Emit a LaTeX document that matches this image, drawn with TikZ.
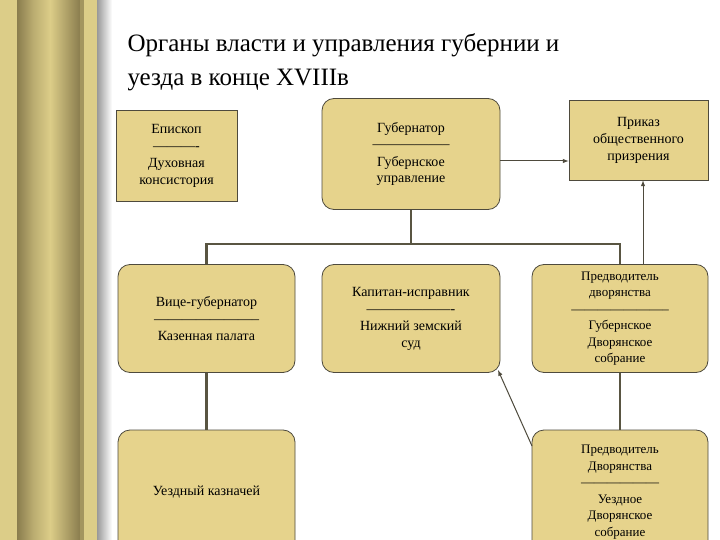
\documentclass[tikz,border=0pt]{standalone}
\usepackage{fontspec}
\setmainfont{Liberation Serif}
\begin{document}
\begin{tikzpicture}[x=1pt,y=-1pt,
  box/.style={draw=black!80!yellow, line width=0.8pt, fill=boxc, align=center, font=\fontsize{14}{17}\selectfont, inner sep=2pt},
  rbox/.style={box, rounded corners=12pt},
  conn/.style={draw=black!75!yellow, line width=2.2pt},
  arr/.style={draw=black!80!yellow, line width=1pt, -latex}]
\definecolor{boxc}{HTML}{E6D38C}
\definecolor{gold}{HTML}{DCCD88}
\definecolor{dgold}{HTML}{8A7D4E}
\useasboundingbox (0,0) rectangle (720,540);
\fill[white] (0,0) rectangle (720,540);
% border
\fill[gold] (0,0) rectangle (97,540);
\shade[left color=dgold, right color=gold, middle color=dgold!40!gold] (17,0) rectangle (50,540);
\shade[left color=gold, right color=dgold] (50,0) rectangle (80,540);
\fill[dgold!70!gold] (80,0) rectangle (84,540);
\shade[left color=gray!80, right color=white] (97,0) rectangle (112,540);
% title
\node[anchor=west, align=left, font=\fontsize{25}{34}\selectfont] (title) at (124,62) {Органы власти и управления губернии и\\уезда в конце XVIIIв};
% boxes
\node[box, minimum width=121, minimum height=91] (ep) at (176.5,155.5) {Епископ\\----------\\Духовная\\консистория};
\node[rbox, minimum width=178, minimum height=111] (gub) at (411,154) {Губернатор\\-----------------\\Губернское\\управление};
\node[box, minimum width=139, minimum height=80] (pr) at (638.5,140) {Приказ\\общественного\\призрения};
\node[rbox, minimum width=177, minimum height=108] (vice) at (206.5,318.5) {Вице-губернатор\\-----------------------\\Казенная палата};
\node[rbox, minimum width=178, minimum height=108] (kap) at (411,318.5) {Капитан-исправник\\-------------------\\Нижний земский\\суд};
\node[rbox, minimum width=176, minimum height=108, font=\fontsize{13}{16.5}\selectfont] (pd) at (620,318.5) {Предводитель\\дворянства\\-----------------------\\Губернское\\Дворянское\\собрание};
\node[rbox, minimum width=177, minimum height=124] (kaz) at (206.5,492) {Уездный казначей};
\node[rbox, minimum width=176, minimum height=124, font=\fontsize{13}{16.5}\selectfont] (upd) at (620,492) {Предводитель\\Дворянства\\------------------\\Уездное\\Дворянское\\собрание};
% connectors
\draw[conn] (gub.south) -- (411,244);
\draw[conn] (vice.north) |- (411,244) -| (pd.north);
\draw[conn] (vice.south) -- (kaz.north);
\draw[conn] (pd.south) -- (upd.north);
\draw[arr] (gub.east |- 0,161) -- (pr.west |- 0,161);
\draw[arr] (pd.north -| 643,0) -- (pr.south -| 643,0);
\coordinate (a1) at (532,446);
\draw[arr] (a1) -- (498,370);
\end{tikzpicture}
\end{document}
